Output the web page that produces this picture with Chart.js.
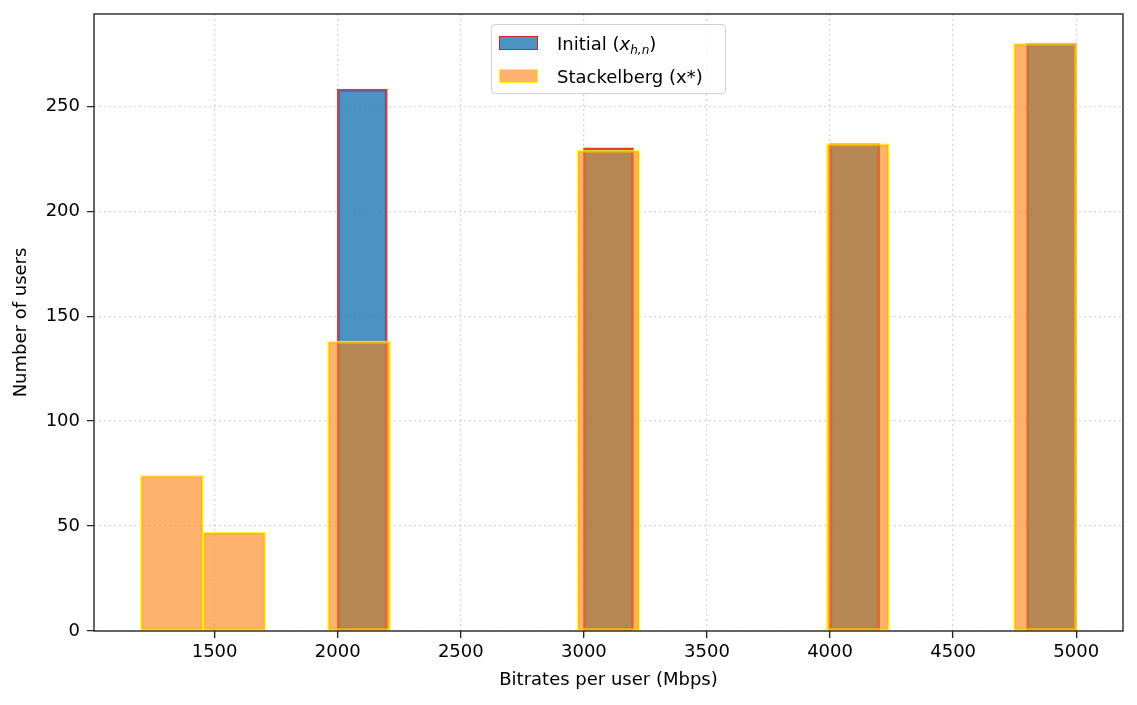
<!DOCTYPE html>
<html lang="en">
<head>
    <meta charset="UTF-8">
    <title>Bitrate histogram</title>
    <script src="https://cdn.jsdelivr.net/npm/chart.js"></script>
    <style>
        body { margin: 0; background: #fff; font-family: "DejaVu Sans", sans-serif; }
        #wrap { position: relative; width: 1137px; height: 705px; }
        #legend {
            position: absolute; left: 491px; top: 24px; width: 233px; height: 68px;
            border: 1px solid #d0d0d0; border-radius: 4px; background: rgba(255,255,255,0.8);
            font-size: 18px; color: #000;
        }
        .row { position: absolute; left: 0; height: 22px; }
        .sw { position: absolute; left: 7px; width: 37px; height: 12px; }
        .lbl { position: absolute; left: 65px; white-space: nowrap; line-height: 22px; }
        sub { font-size: 12px; vertical-align: -4px; }
    </style>
</head>
<body>
<div id="wrap">
    <canvas id="histChart" width="1137" height="705"></canvas>
    <div id="legend">
        <div class="row" style="top:8px">
            <div class="sw" style="top:3px;background:rgba(31,119,180,0.8);border:1.5px solid rgba(255,0,0,0.8)"></div>
            <div class="lbl">Initial (<i>x</i><sub><i>h,n</i></sub>)</div>
        </div>
        <div class="row" style="top:41px">
            <div class="sw" style="top:3px;background:rgba(255,127,14,0.6);border:1.5px solid rgba(255,255,0,0.8)"></div>
            <div class="lbl">Stackelberg (x*)</div>
        </div>
    </div>
</div>
<script>
    // histogram data, 15 bins each
    const nBins = 15;
    const initialRange = [2000, 5000];
    const initialCounts = [258, 0, 0, 0, 0, 230, 0, 0, 0, 0, 232, 0, 0, 0, 280];
    const stackRange = [1200, 5000];
    const stackCounts = [74, 47, 0, 138, 0, 0, 0, 229, 0, 0, 0, 232, 0, 0, 280];

    const xTicks = [1500, 2000, 2500, 3000, 3500, 4000, 4500, 5000];
    const yTicks = [0, 50, 100, 150, 200, 250];
    const xLimits = [1010, 5190];
    const yLimits = [0, 294];

    function toPoints(range, counts) {
        const w = (range[1] - range[0]) / nBins;
        return counts.map((c, i) => ({ x: range[0] + (i + 0.5) * w, y: c }));
    }

    const font = { family: 'DejaVu Sans', size: 18 };

    const frame = {
        id: 'frame',
        afterDraw(chart) {
            const a = chart.chartArea;
            const ctx = chart.ctx;
            ctx.save();
            ctx.strokeStyle = '#262626';
            ctx.lineWidth = 1.4;
            ctx.strokeRect(a.left, a.top, a.right - a.left, a.bottom - a.top);
            ctx.restore();
        }
    };

    const gridOpts = {
        offset: false,
        color: 'rgba(0,0,0,0.16)',
        lineWidth: 1.3,
        tickLength: 7,
        tickColor: '#262626',
        tickWidth: 1.4,
        tickBorderDash: [1, 0]
    };
    const borderOpts = { display: false, dash: [2, 3] };

    new Chart(document.getElementById('histChart'), {
        type: 'bar',
        data: {
            datasets: [
                {
                    label: 'Initial',
                    data: toPoints(initialRange, initialCounts),
                    xAxisID: 'x',
                    backgroundColor: 'rgba(31,119,180,0.8)',
                    borderColor: 'rgba(255,0,0,0.8)',
                    borderWidth: 1.5,
                    borderSkipped: false,
                    inflateAmount: 0.75,
                    order: 1
                },
                {
                    label: 'Stackelberg',
                    data: toPoints(stackRange, stackCounts),
                    xAxisID: 'x2',
                    backgroundColor: 'rgba(255,127,14,0.6)',
                    borderColor: 'rgba(255,255,0,0.75)',
                    borderWidth: 1.5,
                    borderSkipped: false,
                    inflateAmount: 0.75,
                    order: 0
                }
            ]
        },
        options: {
            responsive: false,
            animation: false,
            grouped: false,
            barPercentage: 1,
            categoryPercentage: 1,
            layout: { padding: { left: 0, top: 14, right: 14, bottom: 0 } },
            plugins: { legend: { display: false }, tooltip: { enabled: false } },
            scales: {
                x: {
                    type: 'linear',
                    min: xLimits[0], max: xLimits[1],
                    offset: false,
                    border: borderOpts,
                    grid: gridOpts,
                    afterBuildTicks: s => { s.ticks = xTicks.map(v => ({ value: v })); },
                    afterFit: s => { s.height = 74; s.paddingLeft = 0; s.paddingRight = 0; },
                    ticks: { font: font, color: '#000', padding: 4, maxRotation: 0, callback: v => String(v) },
                    title: { display: true, text: 'Bitrates per user (Mbps)', font: font, color: '#000', padding: { top: 0, bottom: 14 } }
                },
                x2: {
                    type: 'linear',
                    min: xLimits[0], max: xLimits[1],
                    offset: false,
                    display: false,
                    afterBuildTicks: s => { s.ticks = xTicks.map(v => ({ value: v })); }
                },
                y: {
                    min: yLimits[0], max: yLimits[1],
                    border: borderOpts,
                    grid: gridOpts,
                    afterBuildTicks: s => { s.ticks = yTicks.map(v => ({ value: v })); },
                    afterFit: s => { s.width = 94; s.paddingTop = 0; s.paddingBottom = 0; },
                    ticks: { font: font, color: '#000', padding: 7 },
                    title: { display: true, text: 'Number of users', font: font, color: '#000', padding: { top: 11, bottom: 0 } }
                }
            }
        },
        plugins: [frame]
    });
</script>
</body>
</html>
